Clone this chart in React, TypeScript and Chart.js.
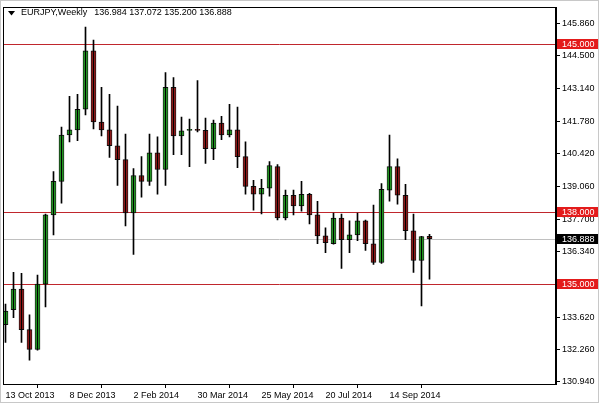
import { useEffect, useRef } from "react";
import { Chart, registerables } from "chart.js";

Chart.register(...registerables);

const symbolTitle = "EURJPY,Weekly";

const opens = [
  133.31, 133.93, 134.79, 133.10, 132.28, 135.00, 137.88, 139.28, 141.21, 141.42,
  142.28, 144.71, 141.75, 141.42, 140.76, 140.18, 137.96, 139.52, 139.28, 140.47,
  139.77, 143.19, 141.17, 141.40, 141.42, 141.40, 140.64, 141.71, 141.21, 141.42,
  140.31, 139.07, 138.74, 138.99, 139.89, 137.75, 138.70, 138.25, 138.74, 137.88,
  137.01, 136.68, 137.75, 136.85, 137.05, 137.63, 136.68, 135.90, 138.91, 139.89,
  138.70, 137.22, 135.98, 136.984,
];
const highs = [
  134.17, 135.49, 135.45, 133.72, 135.37, 137.92, 139.69, 141.54, 142.82, 142.90,
  145.70, 145.16, 143.19, 142.90, 142.41, 141.25, 139.81, 140.31, 141.25, 141.13,
  143.81, 143.60, 141.95, 141.87, 143.48, 141.91, 141.83, 141.99, 142.49, 142.37,
  140.92, 139.32, 139.36, 140.10, 139.98, 138.91, 138.91, 139.28, 138.78, 138.45,
  137.34, 137.96, 137.92, 137.63, 137.96, 137.67, 138.29, 139.19, 141.21, 140.22,
  139.15, 137.92, 136.99, 137.072,
];
const lows = [
  132.57, 133.60, 132.57, 131.83, 132.25, 134.05, 137.05, 138.37, 140.92, 140.97,
  142.04, 141.46, 141.17, 140.27, 139.11, 137.42, 136.23, 138.62, 139.11, 138.74,
  139.11, 140.39, 140.39, 139.89, 141.34, 140.02, 140.18, 141.01, 141.13, 139.85,
  138.74, 138.08, 137.92, 138.66, 137.67, 137.67, 137.88, 138.04, 137.51, 136.68,
  136.31, 136.66, 135.65, 136.31, 136.81, 136.40, 135.82, 135.86, 138.45, 138.33,
  136.85, 135.49, 134.09, 135.200,
];
const closes = [
  133.88, 134.79, 133.10, 132.28, 135.00, 137.88, 139.28, 141.21, 141.42, 142.28,
  144.71, 141.75, 141.42, 140.76, 140.18, 137.96, 139.52, 139.28, 140.47, 139.77,
  143.19, 141.17, 141.38, 141.42, 141.40, 140.64, 141.71, 141.21, 141.42, 140.31,
  139.07, 138.74, 138.99, 139.94, 137.75, 138.70, 138.25, 138.74, 137.88, 137.01,
  136.72, 137.75, 136.85, 137.05, 137.63, 136.68, 135.90, 138.95, 139.89, 138.70,
  137.22, 135.98, 136.98, 136.888,
];

const dateTickIndex = [0, 8, 16, 24, 32, 40, 48];
const dateTickLabels = [
  "13 Oct 2013", "8 Dec 2013", "2 Feb 2014", "30 Mar 2014",
  "25 May 2014", "20 Jul 2014", "14 Sep 2014",
];
const priceTicks = [
  145.86, 144.5, 143.14, 141.78, 140.42, 139.06, 137.7, 136.34, 134.98, 133.62, 132.26, 130.94,
];
const levelLines = [145, 138, 135];
const lastPrice = 136.888;

const FONT = "'Liberation Sans', Arial, sans-serif";

export default function App() {
  const ref = useRef<HTMLCanvasElement | null>(null);

  useEffect(() => {
    document.body.style.margin = "0";
    const canvas = ref.current;
    if (!canvas) return;
    Chart.defaults.font.family = FONT;
    Chart.defaults.font.size = 9;
    Chart.defaults.color = "#000";

    const overlay = {
      id: "mt4overlay",
      beforeDatasetsDraw(chart: any) {
        const { ctx, chartArea } = chart;
        const ys = chart.scales.y;
        ctx.save();
        const yl = Math.round(ys.getPixelForValue(lastPrice)) + 0.5;
        ctx.strokeStyle = "#c0c0c0";
        ctx.lineWidth = 1;
        ctx.beginPath();
        ctx.moveTo(chartArea.left, yl);
        ctx.lineTo(chartArea.right, yl);
        ctx.stroke();
        ctx.strokeStyle = "#c0272d";
        levelLines.forEach((v) => {
          const y = Math.round(ys.getPixelForValue(v)) + 0.5;
          ctx.beginPath();
          ctx.moveTo(chartArea.left, y);
          ctx.lineTo(chartArea.right, y);
          ctx.stroke();
        });
        ctx.restore();
      },
      afterDraw(chart: any) {
        const { ctx, chartArea } = chart;
        const ys = chart.scales.y;
        ctx.save();
        ctx.strokeStyle = "#000";
        ctx.lineWidth = 1;
        ctx.strokeRect(
          Math.round(chartArea.left) + 0.5,
          Math.round(chartArea.top) + 0.5,
          Math.round(chartArea.right - chartArea.left) - 1,
          Math.round(chartArea.bottom - chartArea.top)
        );
        ctx.strokeStyle = "#c8c8c8";
        ctx.strokeRect(0.5, 0.5, 598, 402);
        ctx.font = "9px " + FONT;
        ctx.textBaseline = "middle";
        ctx.textAlign = "left";
        const label = (v: number, bg: string) => {
          const y = Math.round(ys.getPixelForValue(v));
          ctx.fillStyle = bg;
          ctx.fillRect(chartArea.right + 1, y - 5, 41, 10);
          ctx.fillStyle = "#fff";
          ctx.fillText(v.toFixed(3), chartArea.right + 6, y + 0.5);
        };
        levelLines.forEach((v) => label(v, "#e31b1b"));
        label(lastPrice, "#000");
        const n = opens.length - 1;
        ctx.fillStyle = "#000";
        ctx.beginPath();
        ctx.moveTo(8, 11);
        ctx.lineTo(15, 11);
        ctx.lineTo(11.5, 15.5);
        ctx.closePath();
        ctx.fill();
        ctx.fillText(symbolTitle, 21, 13);
        const w = ctx.measureText(symbolTitle).width;
        const vals = [opens[n], highs[n], lows[n], closes[n]].map((v) => v.toFixed(3)).join(" ");
        ctx.fillText(vals, 21 + w + 7, 13);
        ctx.restore();
      },
    };

    const chart = new Chart(canvas, {
      type: "bar",
      data: {
        datasets: [
          {
            label: "wick",
            data: opens.map((_, i) => ({ x: i, y: [lows[i], highs[i]] })) as any,
            backgroundColor: "#000",
            barThickness: 1,
            grouped: false,
            minBarLength: 1,
          },
          {
            label: "body",
            data: opens.map((o, i) => ({ x: i, y: [o, closes[i]] })) as any,
            backgroundColor: opens.map((o, i) => (closes[i] >= o ? "#34dc34" : "#cf2424")),
            borderColor: "#111",
            borderWidth: 1,
            borderSkipped: false,
            barThickness: 5,
            grouped: false,
            minBarLength: 1,
          },
        ],
      },
      options: {
        responsive: false,
        animation: false,
        devicePixelRatio: 1,
        layout: { padding: { top: 3, left: 3, right: 0, bottom: 0 } },
        plugins: { legend: { display: false }, tooltip: { enabled: false } },
        scales: {
          x: {
            type: "linear",
            min: -0.3125,
            max: 68.8125,
            offset: false,
            grid: { drawOnChartArea: false, drawTicks: true, tickLength: 4, color: "#000" },
            border: { display: true, color: "#000" },
            afterBuildTicks: (scale: any) => {
              scale.ticks = dateTickIndex.map((v) => ({ value: v }));
            },
            afterFit: (scale: any) => {
              scale.height = 21;
            },
            ticks: {
              autoSkip: false,
              maxRotation: 0,
              minRotation: 0,
              align: "start",
              padding: 2,
              color: "#000",
              font: { size: 9, family: FONT },
              callback: (v: any) => {
                const k = dateTickIndex.indexOf(Number(v));
                return k >= 0 ? dateTickLabels[k] : "";
              },
            },
          },
          y: {
            type: "linear",
            position: "right",
            min: 130.838,
            max: 146.523,
            grid: { drawOnChartArea: false, drawTicks: true, tickLength: 4, color: "#000" },
            border: { display: true, color: "#000" },
            afterBuildTicks: (scale: any) => {
              scale.ticks = priceTicks.map((v) => ({ value: v }));
            },
            afterFit: (scale: any) => {
              scale.width = 45;
            },
            ticks: {
              autoSkip: false,
              padding: 2,
              color: "#000",
              font: { size: 9, family: FONT },
              callback: (v: any) => Number(v).toFixed(3),
            },
          },
        },
      },
      plugins: [overlay],
    } as any);

    return () => chart.destroy();
  }, []);

  return (
    <canvas
      ref={ref}
      width={601}
      height={405}
      style={{ position: "fixed", left: 0, top: 0, width: 601, height: 405, display: "block", background: "#fff" }}
    />
  );
}
